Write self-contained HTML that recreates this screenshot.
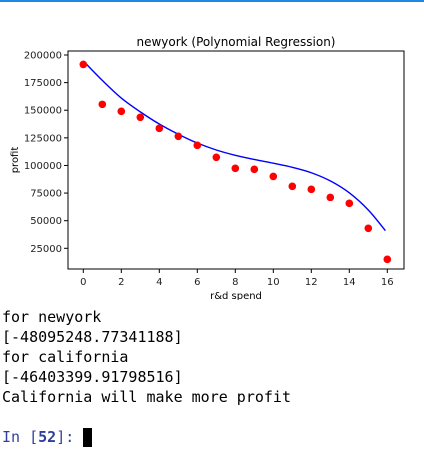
<!DOCTYPE html>
<html><head><meta charset="utf-8">
<style>
body{margin:0;width:424px;height:457px;background:#fff;overflow:hidden;position:relative;font-family:"Liberation Sans","DejaVu Sans",sans-serif}
.topbar{position:absolute;left:0;top:0;width:424px;height:2px;background:#1e88e5}
.out{position:absolute;left:2px;font-family:"DejaVu Sans Mono","Liberation Mono",monospace;font-size:15px;line-height:20px;color:#000;white-space:pre}
</style></head><body>
<div class="topbar"></div>
<svg id="chart" width="424" height="300" style="position:absolute;left:0;top:0" font-family="DejaVu Sans, Liberation Sans, sans-serif"></svg>
<div class="out" style="top:307px">for newyork</div>
<div class="out" style="top:327px">[-48095248.77341188]</div>
<div class="out" style="top:347px">for california</div>
<div class="out" style="top:367px">[-46403399.91798516]</div>
<div class="out" style="top:387px">California will make more profit</div>
<div class="out" style="top:427px;color:#303f9f">In [<b>52</b>]:</div>
<div style="position:absolute;left:83px;top:428px;width:9px;height:19px;background:#000"></div>
<script>
const xVals=[0,1,2,3,4,5,6,7,8,9,10,11,12,13,14,15,16];
const profitVals=[191500,155300,149000,143600,133600,126400,118200,107400,97400,96500,90100,81100,78400,71100,65700,43100,15000];
const curveX=[0,1,2,3,4,5,6,7,8,9,10,11,12,13,14,15,15.9];
const curveY=[194600,177000,161000,148500,137500,128300,120300,114000,109200,105400,102000,98300,93400,86000,75200,59700,41000];
const xTicks=[0,2,4,6,8,10,12,14,16];
const yTicks=[25000,50000,75000,100000,125000,150000,175000,200000];
const svg=document.getElementById('chart');
const NS='http://www.w3.org/2000/svg';
const L=68,R=404,T=51,B=269;
const sx=v=>83.3+v*19;
const sy=v=>55+(200000-v)/175000*193.3;
function mk(tag,attrs,parent){const e=document.createElementNS(NS,tag);for(const k in attrs)e.setAttribute(k,attrs[k]);(parent||svg).appendChild(e);return e;}
let frame=mk('rect',{x:L,y:T,width:R-L,height:B-T,fill:'none',stroke:'#000','stroke-width':1});


xTicks.forEach(v=>{
  const g=mk('g',{});
  
  
  mk('line',{x1:sx(v),x2:sx(v),y1:B,y2:B+4,stroke:'#000'},g);
  const t=mk('text',{x:sx(v),y:B+16,'font-size':10,'text-anchor':'middle',fill:'#222'},g);t.textContent=v;
});
yTicks.forEach(v=>{
  const g=mk('g',{});
  
  
  mk('line',{x1:L-4,x2:L,y1:sy(v),y2:sy(v),stroke:'#000'},g);
  const t=mk('text',{x:L-6,y:sy(v)+3.5,'font-size':10,'text-anchor':'end',fill:'#222'},g);t.textContent=v;
});
let tt=mk('text',{x:236,y:46,'font-size':12,'text-anchor':'middle',fill:'#000'});tt.textContent='newyork (Polynomial Regression)';


let xl=mk('text',{x:236,y:299,'font-size':10,'text-anchor':'middle',fill:'#000'});xl.textContent='r&d spend';


let yl=mk('text',{x:18,y:160,'font-size':10,'text-anchor':'middle',fill:'#000',transform:'rotate(-90 18 160)'});yl.textContent='profit';


const P=curveX.map((x,i)=>[sx(x),sy(curveY[i])]);
let d='M'+P[0][0]+','+P[0][1];
for(let i=0;i<P.length-1;i++){
  const p0=P[Math.max(0,i-1)],p1=P[i],p2=P[i+1],p3=P[Math.min(P.length-1,i+2)];
  const c1=[p1[0]+(p2[0]-p0[0])/6,p1[1]+(p2[1]-p0[1])/6];
  const c2=[p2[0]-(p3[0]-p1[0])/6,p2[1]-(p3[1]-p1[1])/6];
  d+=' C'+c1+' '+c2+' '+p2;
}
let line=mk('path',{d:d,fill:'none',stroke:'#0000ff','stroke-width':1.4});


xVals.forEach((x,i)=>{
  const c=mk('circle',{cx:sx(x),cy:sy(profitVals[i]),r:3.8,fill:'#ff0000'});
  
  
});
</script>
</body></html>
